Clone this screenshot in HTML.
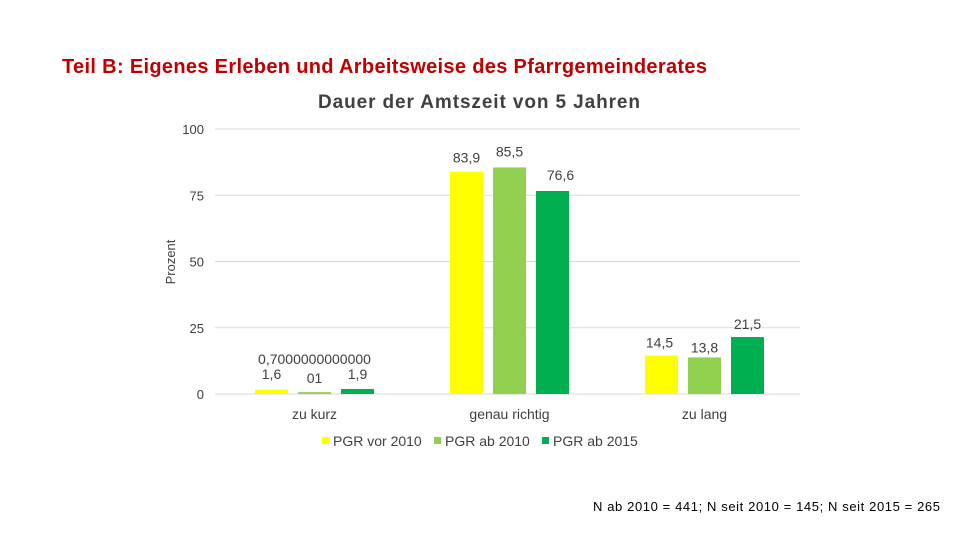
<!DOCTYPE html>
<html><head><meta charset="utf-8"><style>
body{margin:0;background:#fff;font-family:"Liberation Sans",sans-serif;}
svg text{font-family:"Liberation Sans",sans-serif;}
</style></head><body>
<svg width="960" height="540" viewBox="0 0 960 540">
<text x="62" y="73" font-size="20" font-weight="bold" fill="#C00000" textLength="645">Teil B: Eigenes Erleben und Arbeitsweise des Pfarrgemeinderates</text>
<text x="318" y="108" font-size="19" font-weight="bold" fill="#404040" textLength="322">Dauer der Amtszeit von 5 Jahren</text>
<text transform="translate(175,262) rotate(-90)" font-size="13" fill="#404040" text-anchor="middle">Prozent</text>
<g id="grid"></g><g id="bars"></g><g id="labels"></g>
<g>
<rect x="322" y="437" width="7" height="7" fill="#FFFF00"/>
<text x="333" y="446" font-size="14" fill="#404040">PGR vor 2010</text>
<rect x="434" y="437" width="7" height="7" fill="#92D050"/>
<text x="445" y="446" font-size="14" fill="#404040">PGR ab 2010</text>
<rect x="542" y="437" width="7" height="7" fill="#00B050"/>
<text x="553" y="446" font-size="14" fill="#404040">PGR ab 2015</text>
</g>
<text x="940" y="511" font-size="13" fill="#000" text-anchor="end" textLength="347">N ab 2010 = 441; N seit 2010 = 145; N seit 2015 = 265</text>
</svg>
<script>
const categories=["zu kurz","genau richtig","zu lang"];
const vor2010=[1.6,83.9,14.5];
const ab2010=[0.7,85.5,13.8];
const ab2015=[1.9,76.6,21.5];
const labelsVor=["1,6","83,9","14,5"];
const labelsAb10=["01","85,5","13,8"];
const labelsAb15=["1,9","76,6","21,5"];
const yTicks=[0,25,50,75,100];
const NS="http://www.w3.org/2000/svg";
const x0=215,x1=800,yTop=129,yBot=394;
const y=v=>yBot-(v/100)*(yBot-yTop);
const band=(x1-x0)/categories.length;
const cx=i=>x0+band*(i+0.5)+2;
function mk(tag,attrs,parent,txt){const e=document.createElementNS(NS,tag);for(const k in attrs)e.setAttribute(k,attrs[k]);if(txt!=null)e.textContent=txt;document.getElementById(parent).appendChild(e);return e;}
yTicks.forEach(t=>{
 const l=mk("line",{x1:x0,x2:x1,y1:y(t),y2:y(t),stroke:"#d9d9d9","stroke-width":1},"grid");
 
 
 const tx=mk("text",{x:204,y:y(t)+5,"font-size":13,fill:"#404040","text-anchor":"end"},"grid",t);
 
 
});
const series=[[vor2010,"#FFFF00",labelsVor,-43],[ab2010,"#92D050",labelsAb10,0],[ab2015,"#00B050",labelsAb15,43]];
categories.forEach((c,i)=>{
 const t=mk("text",{x:cx(i),y:419,"font-size":14,fill:"#404040","text-anchor":"middle"},"labels",c);
 
 
 series.forEach(([vals,col,labs,off],s)=>{
  const bx=cx(i)+off-16.5;
  const r=mk("rect",{x:bx,y:y(vals[i]),width:33,height:yBot-y(vals[i]),fill:col},"bars");
  
  
  let ly=(i===0)?(s===1?383:379):y(vals[i])-8+(i===2&&s===1?3:0);
  let lx=cx(i)+off;
  if(i===1&&s===0){lx+=0;ly+=-1;}
  if(i===1&&s===1){lx+=0;ly-=3;}
  if(i===1&&s===2){lx+=8;ly-=3;}
  if(i===2&&s===0){lx-=2;}
  const lt=mk("text",{x:lx,y:ly,"font-size":14,fill:"#404040","text-anchor":"middle"},"labels",labs[i]);
  
  
 });
});
const extra=mk("text",{x:cx(0),y:364,"font-size":14,fill:"#404040","text-anchor":"middle"},"labels","0,7000000000000");


</script>
</body></html>
